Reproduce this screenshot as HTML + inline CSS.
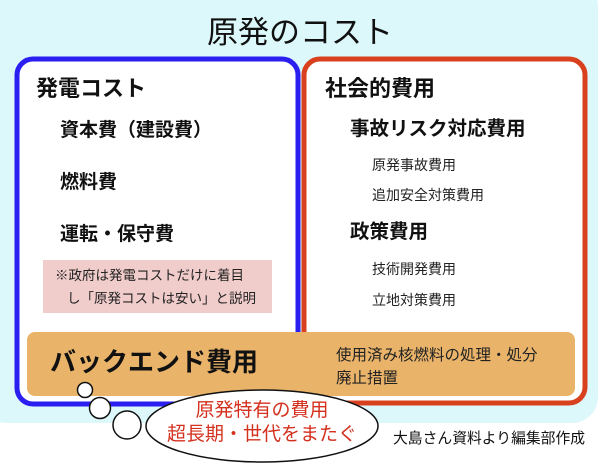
<!DOCTYPE html>
<html><head><meta charset="utf-8"><style>
html,body{margin:0;padding:0;background:#fff;}
svg{display:block;}
text{font-family:"Liberation Sans","Noto Sans CJK JP",sans-serif;}
</style></head><body>
<svg width="603" height="463" viewBox="0 0 603 463" xmlns="http://www.w3.org/2000/svg">
<rect x="0" y="0" width="603" height="463" fill="#fff"/>
<rect x="-20" y="-20" width="618" height="443" rx="26" fill="#dcf8fb"/>
<text x="300" y="43" font-size="31" text-anchor="middle" fill="#111">原発のコスト</text>
<rect x="17" y="59" width="281" height="345" rx="16" fill="#fff" stroke="#2a1ef0" stroke-width="5"/>
<rect x="304" y="59" width="281" height="344" rx="16" fill="#fff" stroke="#d9401e" stroke-width="5"/>
<text x="36" y="96" font-size="22" font-weight="bold" fill="#111">発電コスト</text>
<text x="325" y="96" font-size="22" font-weight="bold" fill="#111">社会的費用</text>
<text x="60" y="136" font-size="19" font-weight="bold" fill="#111">資本費（建設費）</text>
<text x="60" y="188" font-size="19" font-weight="bold" fill="#111">燃料費</text>
<text x="60" y="240" font-size="19" font-weight="bold" fill="#111">運転・保守費</text>
<rect x="43" y="260" width="229" height="53" fill="#f0cccb"/>
<text x="55" y="280" font-size="13.5" fill="#222">※政府は発電コストだけに着目</text>
<text x="67" y="303" font-size="13.5" fill="#222">し「原発コストは安い」と説明</text>
<text x="350" y="135" font-size="19.5" font-weight="bold" fill="#111">事故リスク対応費用</text>
<text x="372" y="170" font-size="14" fill="#222">原発事故費用</text>
<text x="372" y="200" font-size="14" fill="#222">追加安全対策費用</text>
<text x="350" y="238" font-size="19.5" font-weight="bold" fill="#111">政策費用</text>
<text x="372" y="274" font-size="14" fill="#222">技術開発費用</text>
<text x="372" y="305" font-size="14" fill="#222">立地対策費用</text>
<rect x="27" y="332" width="548" height="64" rx="8" fill="#e9b46a"/>
<text x="50" y="371" font-size="26" font-weight="bold" fill="#111">バックエンド費用</text>
<text x="336" y="360" font-size="15.5" fill="#222">使用済み核燃料の処理・処分</text>
<text x="336" y="383" font-size="15.5" fill="#222">廃止措置</text>
<circle cx="85" cy="390" r="7.5" fill="#fff" stroke="#111" stroke-width="1.5"/>
<circle cx="100" cy="408" r="10.5" fill="#fff" stroke="#111" stroke-width="1.5"/>
<circle cx="127" cy="425" r="14" fill="#fff" stroke="#111" stroke-width="1.5"/>
<ellipse cx="262" cy="426" rx="116" ry="36" fill="#fff" stroke="#111" stroke-width="1.5"/>
<text x="262" y="416" font-size="19" text-anchor="middle" fill="#d4301e">原発特有の費用</text>
<text x="262" y="440" font-size="19" text-anchor="middle" fill="#d4301e">超長期・世代をまたぐ</text>
<text x="393" y="443" font-size="14.8" fill="#111">大島さん資料より編集部作成</text>
</svg>
</body></html>
